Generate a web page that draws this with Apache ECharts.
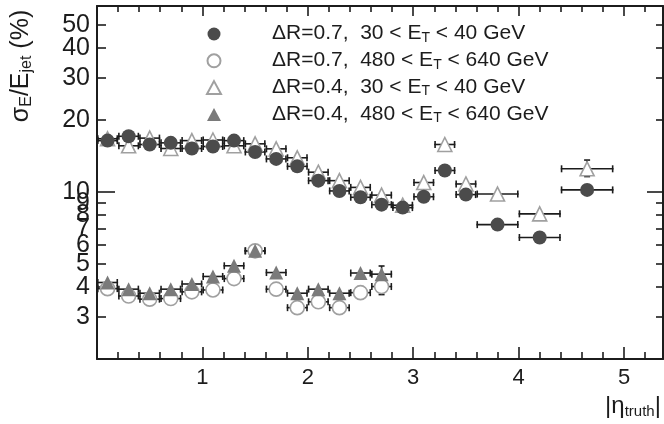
<!DOCTYPE html>
<html><head><meta charset="utf-8">
<script src="https://cdn.jsdelivr.net/npm/echarts@6/dist/echarts.min.js"></script>
<style>html,body{margin:0;padding:0;background:#fff}#c{width:664px;height:424px}</style>
</head><body><div id="c"></div>
<script>
// ---- data ----
const etaA = [0.1,0.3,0.5,0.7,0.9,1.1,1.3,1.5,1.7,1.9,2.1,2.3,2.5,2.7,2.9,3.1,3.3,3.5,3.8,4.2,4.65];
const binLoA = [0,0.2,0.4,0.6,0.8,1.0,1.2,1.4,1.6,1.8,2.0,2.2,2.4,2.6,2.8,3.0,3.2,3.4,3.6,4.0,4.4];
const binHiA = [0.2,0.4,0.6,0.8,1.0,1.2,1.4,1.6,1.8,2.0,2.2,2.4,2.6,2.8,3.0,3.2,3.4,3.6,4.0,4.4,4.9];
const etaB = [0.1,0.3,0.5,0.7,0.9,1.1,1.3,1.5,1.7,1.9,2.1,2.3,2.5,2.7];
const binLoB = [0,0.2,0.4,0.6,0.8,1.0,1.2,1.4,1.6,1.8,2.0,2.2,2.4,2.6];
const binHiB = [0.2,0.4,0.6,0.8,1.0,1.2,1.4,1.6,1.8,2.0,2.2,2.4,2.6,2.8];

// dR=0.7, 30<ET<40 (filled circles)
const r07low = [16.4,17.1,15.8,16.05,15.2,15.5,16.4,14.7,13.75,12.8,11.15,10.1,9.5,8.85,8.6,9.55,12.3,9.75,7.3,6.45,10.2];
// dR=0.4, 30<ET<40 (open triangles)
const r04low = [16.7,15.6,16.8,15.2,16.4,16.5,15.6,15.9,15.15,13.9,12.1,11.15,10.45,9.7,8.8,10.95,15.8,10.8,9.8,8.1,12.5];
const r04lowErrLo = [null,null,null,null,null,null,null,null,null,null,null,null,null,null,null,null,null,null,null,null,11.6];
const r04lowErrHi = [null,null,null,null,null,null,null,null,null,null,null,null,null,null,null,null,null,null,null,null,13.6];
// dR=0.7, 480<ET<640 (open circles)
const r07high = [3.94,3.67,3.56,3.58,3.82,3.89,4.34,5.67,3.92,3.28,3.47,3.28,3.79,4.02];
const r07highErrLo = [null,null,null,null,null,null,null,null,null,null,null,null,null,3.72];
const r07highErrHi = [null,null,null,null,null,null,null,null,null,null,null,null,null,4.2];
// dR=0.4, 480<ET<640 (filled triangles)
const r04high = [4.18,3.92,3.77,3.92,4.12,4.43,4.91,5.67,4.6,3.77,3.92,3.77,4.58,4.53];
const r04highErrLo = [null,null,null,null,null,null,null,null,null,null,null,null,null,4.3];
const r04highErrHi = [null,null,null,null,null,null,null,null,null,null,null,null,null,4.9];

const names = ['ΔR=0.7,  30 < E_T < 40 GeV','ΔR=0.7,  480 < E_T < 640 GeV','ΔR=0.4,  30 < E_T < 40 GeV','ΔR=0.4,  480 < E_T < 640 GeV'];
const xLabels = [1,2,3,4,5];
const yLabels = [3,4,5,6,7,8,9,10,20,30,40];
const yLabelsTop = [50];

// ---- build ----
const FONT = "'Liberation Sans', Arial, sans-serif";
const INK = '#1c1c1c';
function errData(eta, y, lo, hi, el, eh){
  return eta.map((x,i)=>[x, y[i], lo[i], hi[i], (el&&el[i]!=null)?el[i]:y[i], (eh&&eh[i]!=null)?eh[i]:y[i]]);
}
function renderErr(params, api){
  const x=api.value(0), y=api.value(1), xl=api.value(2), xh=api.value(3), yl=api.value(4), yh=api.value(5);
  const p=api.coord([x,y]), pl=api.coord([xl,y]), ph=api.coord([xh,y]);
  const st={stroke:INK,lineWidth:1.6};
  const ch=[
    {type:'line',shape:{x1:pl[0],y1:p[1],x2:ph[0],y2:p[1]},style:st},
    {type:'line',shape:{x1:pl[0]+0.8,y1:p[1]-3.5,x2:pl[0]+0.8,y2:p[1]+3.5},style:st},
    {type:'line',shape:{x1:ph[0]-0.8,y1:p[1]-3.5,x2:ph[0]-0.8,y2:p[1]+3.5},style:st}
  ];
  if (yh>yl){
    const a=api.coord([x,yl]), b=api.coord([x,yh]);
    ch.push({type:'line',shape:{x1:p[0],y1:a[1],x2:p[0],y2:b[1]},style:st});
    ch.push({type:'line',shape:{x1:p[0]-3,y1:a[1],x2:p[0]+3,y2:a[1]},style:st});
    ch.push({type:'line',shape:{x1:p[0]-3,y1:b[1],x2:p[0]+3,y2:b[1]},style:st});
  }
  return {type:'group',children:ch};
}
const minorX=[]; for(let k=1;k<=26;k++){ if(k%5!==0) minorX.push(+(k*0.2).toFixed(1)); }
const majorX=[0,1,2,3,4,5];
const shortY=[3,4,5,6,7,8,9,20,30,40,50];
const longY=[10];

const XMIN=0, XMAX=5.37, YMIN=2, YMAX=60;
function xAx(pos, ticks, len, labels, line){
  return {type:'value',min:XMIN,max:XMAX,position:pos,
    axisLine:{show:line,onZero:false,lineStyle:{color:INK,width:2}},
    axisTick:{show:true,inside:true,length:len,customValues:ticks,lineStyle:{color:INK,width:1.6}},
    axisLabel:labels?{show:true,customValues:labels,fontSize:22,color:INK,fontFamily:FONT,margin:8,showMinLabel:true,showMaxLabel:true,hideOverlap:false}:{show:false},
    splitLine:{show:false}};
}
function yAx(pos, ticks, len, labels, line){
  return {type:'log',logBase:10,min:YMIN,max:YMAX,position:pos,
    axisLine:{show:line,onZero:false,lineStyle:{color:INK,width:2}},
    axisTick:ticks?{show:true,inside:true,length:len,customValues:ticks,lineStyle:{color:INK,width:1.6}}:{show:false},
    axisLabel:labels?{show:true,customValues:labels,fontSize:25,lineHeight:14,color:INK,fontFamily:FONT,margin:7,showMinLabel:true,showMaxLabel:true,hideOverlap:false}:{show:false},
    splitLine:{show:false},minorTick:{show:false}};
}
const chart = echarts.init(document.getElementById('c'), null, {renderer:'canvas'});
const legendRich={sp:{width:46,fontSize:21,fontFamily:FONT,lineHeight:22,verticalAlign:'top'},
  a:{fontSize:21,fontFamily:FONT,color:INK,lineHeight:22,verticalAlign:'top'},
  s:{fontSize:14,fontFamily:FONT,color:INK,lineHeight:13,padding:[13,0,0,0],verticalAlign:'bottom'}};
chart.setOption({
  animation:false,
  backgroundColor:'#fff',
  grid:{left:97,right:1,top:6,bottom:65,containLabel:false},
  xAxis:[xAx('bottom',majorX,12,xLabels,true), xAx('bottom',minorX,7,null,false),
         xAx('top',majorX,10,null,true), xAx('top',minorX,6,null,false)],
  yAxis:[yAx('left',shortY,9,yLabels,true), yAx('left',longY,18,null,false),
         yAx('right',shortY,7,null,true), yAx('right',longY,16,null,false),
         yAx('left',null,0,yLabelsTop,false)],
  legend:{orient:'vertical',left:201,top:13,itemWidth:14,itemHeight:13,itemGap:-0.2,
    data:names, formatter:n=>{const q=n.split('E_T');return '{sp| }{a|'+q[0]+'E}{s|T}{a|'+q[1]+'}';},
    textStyle:{rich:legendRich}, selectedMode:false},
  graphic:[
    {type:'text',rotation:Math.PI/2,x:22,y:66,style:{text:'{m|σ}{s|E}{m|/E}{s|jet}{m| (%)}',
      align:'center',verticalAlign:'middle',
      rich:{m:{fontSize:25,fontFamily:FONT,fill:INK,lineHeight:26,verticalAlign:'top'},
            s:{fontSize:16,fontFamily:FONT,fill:INK,lineHeight:16,padding:[16,0,0,0],verticalAlign:'bottom'}}}},
    {type:'text',x:633,y:407,style:{text:'{m||η}{s|truth}{m||}',align:'center',verticalAlign:'middle',
      rich:{m:{fontSize:24,fontFamily:FONT,fill:INK,lineHeight:25,verticalAlign:'top'},
            s:{fontSize:15,fontFamily:FONT,fill:INK,lineHeight:15,padding:[15,0,0,0],verticalAlign:'bottom'}}}}
  ],
  series:[
    {type:'custom',name:'errA1',renderItem:renderErr,data:errData(etaA,r07low,binLoA,binHiA),encode:{x:[0,2,3],y:[1,4,5]},z:1,silent:true},
    {type:'custom',name:'errA2',renderItem:renderErr,data:errData(etaA,r04low,binLoA,binHiA,r04lowErrLo,r04lowErrHi),encode:{x:[0,2,3],y:[1,4,5]},z:1,silent:true},
    {type:'custom',name:'errB1',renderItem:renderErr,data:errData(etaB,r07high,binLoB,binHiB,r07highErrLo,r07highErrHi),encode:{x:[0,2,3],y:[1,4,5]},z:1,silent:true},
    {type:'custom',name:'errB2',renderItem:renderErr,data:errData(etaB,r04high,binLoB,binHiB,r04highErrLo,r04highErrHi),encode:{x:[0,2,3],y:[1,4,5]},z:1,silent:true},
    {type:'scatter',name:names[2],symbol:'triangle',symbolSize:14,z:3,
      itemStyle:{color:'#fff',borderColor:'#a0a0a0',borderWidth:1.6,opacity:1},
      data:etaA.map((x,i)=>[x,r04low[i]])},
    {type:'scatter',name:names[0],symbol:'circle',symbolSize:14,z:4,
      itemStyle:{color:'#4b4b4b',opacity:1},
      data:etaA.map((x,i)=>[x,r07low[i]])},
    {type:'scatter',name:names[1],symbol:'circle',symbolSize:14,z:3,
      itemStyle:{color:'#fff',borderColor:'#a0a0a0',borderWidth:1.6,opacity:1},
      data:etaB.map((x,i)=>[x,r07high[i]])},
    {type:'scatter',name:names[3],symbol:'triangle',symbolSize:14,z:4,
      itemStyle:{color:'#7a7a7a',opacity:1},
      data:etaB.map((x,i)=>[x,r04high[i]])}
  ]
});
</script></body></html>
